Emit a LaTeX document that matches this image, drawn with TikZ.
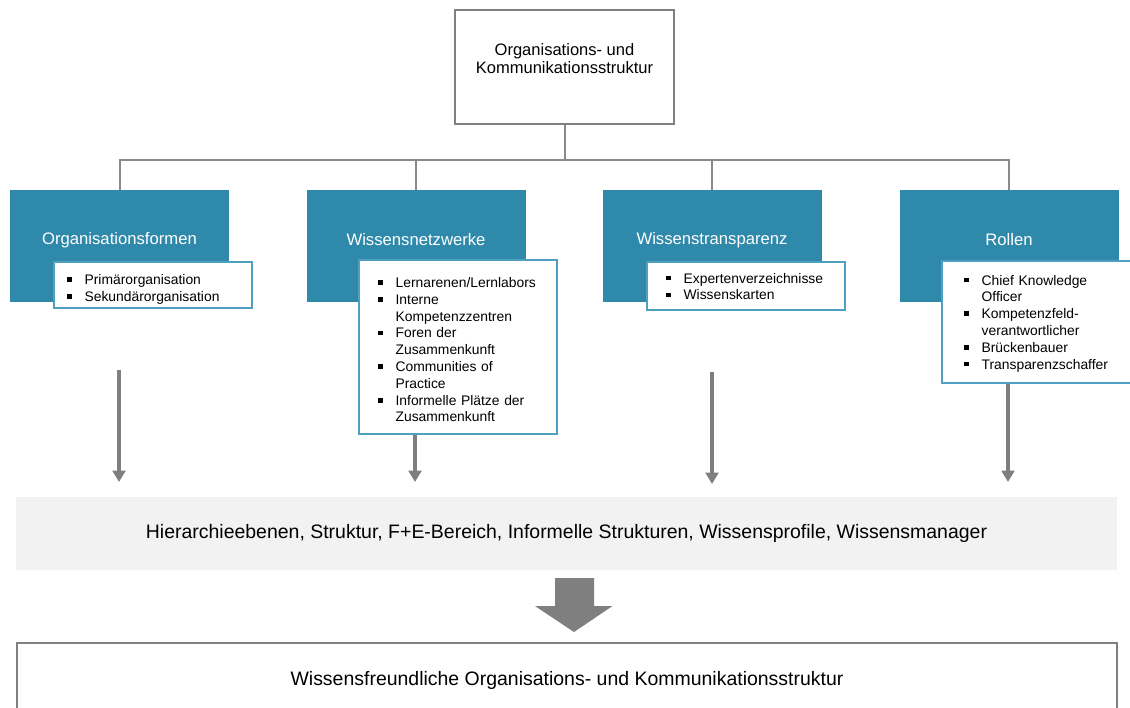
\documentclass[tikz,border=0pt]{standalone}
\usepackage{fontspec}
\setmainfont{Liberation Sans}
\usetikzlibrary{arrows.meta}

\definecolor{kteal}{HTML}{2E89AB}
\definecolor{kborder}{HTML}{4F9FC3}
\definecolor{linegray}{HTML}{8A8A8A}
\definecolor{boxgray}{HTML}{808080}
\definecolor{arrowgray}{HTML}{7F7F7F}
\definecolor{bandgray}{HTML}{F2F2F2}

\newcommand{\fs}[2]{\fontsize{#1}{#2}\selectfont}
% bullet item with hanging indent; use \newline for a second line
\newcommand{\litem}[1]{\par\hangindent=13pt\hangafter=1\noindent
  \hbox to 13pt{\rule[2pt]{3.4pt}{3.4pt}\hss}\strut#1}

\begin{document}
\begin{tikzpicture}[x=0.75pt,y=-0.75pt,
  conn/.style={draw=linegray, line width=1.5pt},
  topbox/.style={draw=boxgray, line width=1.2pt, fill=white,
    minimum width=164.25pt, minimum height=85.5pt, inner sep=0},
  toptext/.style={align=center, font=\fs{12.4}{13.2}, inner sep=0},
  catbox/.style={fill=kteal, minimum width=164.25pt, minimum height=84pt, inner sep=0},
  cattitle/.style={text=white, font=\fs{12.5}{15}, inner sep=0},
  listbox/.style={draw=kborder, line width=1pt, fill=white, minimum width=148.5pt, inner sep=0},
  listtext/.style={anchor=north west, inner sep=0, text width=140pt, align=left,
    font=\fs{10.4}{12.6}},
  flowarrow/.style={draw=arrowgray, line width=3pt, -{Triangle[width=9.5pt,length=8.5pt]}},
]
\useasboundingbox (0,0) rectangle (1130,707);

% top element
\node[topbox] (top) at (564.5,67) {};
\node[toptext] (toplabel) at (564.5,58.5) {Organisations- und\\Kommunikationsstruktur};

% four categories
\node[catbox] (c1) at (119.5,246) {};
\node[catbox] (c2) at (416,246) {};
\node[catbox] (c3) at (712,246) {};
\node[catbox] (c4) at (1009,246) {};
\node[cattitle] (t1) at (119.5,240) {Organisationsformen};
\node[cattitle] (t2) at (416,240) {Wissensnetzwerke};
\node[cattitle] (t3) at (712,240) {Wissenstransparenz};
\node[cattitle] (t4) at (1009,240) {Rollen};

% tree connectors
\coordinate (hub) at (564.5,160);
\draw[conn] (top.south) -- (hub);
\draw[conn] (hub) -| (c1.north);
\draw[conn] (hub) -| (c2.north);
\draw[conn] (hub) -| (c3.north);
\draw[conn] (hub) -| (c4.north);

% downward arrows to the summary band
\coordinate (s1) at (119,370);  \coordinate (e1) at (119,482);
\coordinate (s2) at (415,370);  \coordinate (e2) at (415,482);
\coordinate (s3) at (712,372);  \coordinate (e3) at (712,484);
\coordinate (s4) at (1008,370); \coordinate (e4) at (1008,482);
\draw[flowarrow] (s1) -- (e1);
\draw[flowarrow] (s2) -- (e2);
\draw[flowarrow] (s3) -- (e3);
\draw[flowarrow] (s4) -- (e4);

% bullet lists
\node[listbox, minimum height=34.5pt] (l1) at (153,285) {};
\node[listtext] (lt1) at (67,267.5) {\litem{Primärorganisation}\litem{Sekundärorganisation}\par};

\node[listbox, minimum height=130.5pt] (l2) at (458,347) {};
\node[listtext] (lt2) at (378,270.5) {\litem{Lernarenen/Lernlabors}%
  \litem{Interne\newline Kompetenzzentren}%
  \litem{Foren der\newline Zusammenkunft}%
  \litem{Communities of\newline Practice}%
  \litem{Informelle Plätze der\newline Zusammenkunft}\par};

\node[listbox, minimum height=36pt] (l3) at (746,286) {};
\node[listtext] (lt3) at (666,266) {\litem{Expertenverzeichnisse}\litem{Wissenskarten}\par};

\node[listbox, minimum height=91.5pt] (l4) at (1041,322) {};
\node[listtext] (lt4) at (964,268) {\litem{Chief Knowledge\newline Officer}%
  \litem{Kompetenzfeld-\newline verantwortlicher}%
  \litem{Brückenbauer}%
  \litem{Transparenzschaffer}\par};

% summary band
\node[fill=bandgray, minimum width=825.75pt, minimum height=54.75pt, inner sep=0,
  font=\fs{14.6}{17}] (band) at (566.5,533.5)
  {Hierarchieebenen, Struktur, F+E-Bereich, Informelle Strukturen, Wissensprofile, Wissensmanager};

% result box
\node[draw=boxgray, line width=1.1pt, fill=white, minimum width=825pt, minimum height=55.5pt,
  inner sep=0, font=\fs{14.6}{17}] (result) at (567,680)
  {Wissensfreundliche Organisations- und Kommunikationsstruktur};

% block arrow between band and result
\fill[arrowgray] (555,578) -- (594,578) -- (594,606) -- (612.5,606) -- (574,632)
  -- (535,606) -- (555,606) -- cycle;
\end{tikzpicture}
\end{document}
